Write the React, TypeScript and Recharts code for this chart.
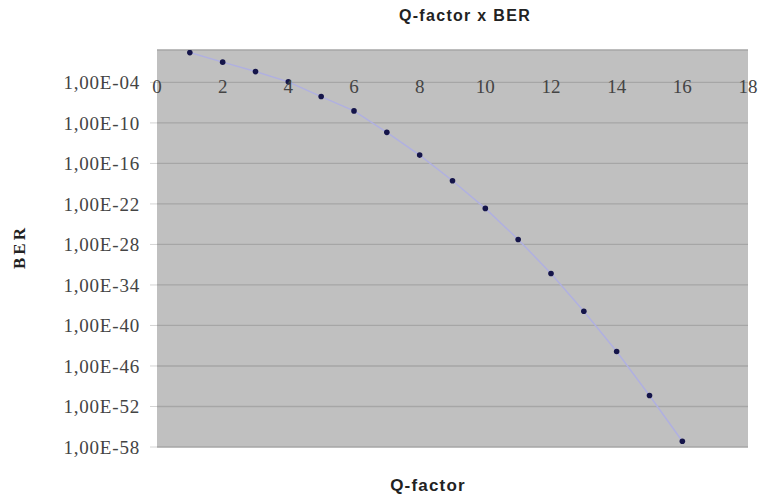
import React from "react";
import {
  ScatterChart,
  Scatter,
  XAxis,
  YAxis,
  CartesianGrid,
  ReferenceDot,
} from "recharts";

const qFactor = [1, 2, 3, 4, 5, 6, 7, 8, 9, 10, 11, 12, 13, 14, 15, 16];
const berValues = [
  2.6, 1e-1, 4e-3, 1.2e-4, 8e-7, 6e-9, 4e-12, 1.7e-15, 2.7e-19, 2.2e-23,
  5.5e-28, 4.9e-33, 1.3e-38, 1.4e-44, 4.3e-51, 7e-58,
];

const xTicks = [0, 2, 4, 6, 8, 10, 12, 14, 16, 18];
const yTickValues = [
  1e-4, 1e-10, 1e-16, 1e-22, 1e-28, 1e-34, 1e-40, 1e-46, 1e-52, 1e-58,
];
const yTickLabels = [
  "1,00E-04",
  "1,00E-10",
  "1,00E-16",
  "1,00E-22",
  "1,00E-28",
  "1,00E-34",
  "1,00E-40",
  "1,00E-46",
  "1,00E-52",
  "1,00E-58",
];
const yDomain = [1e-58, 6.3];
const xAxisCross = 1e-4;

const title = "Q-factor x BER";
const xTitle = "Q-factor";
const yTitle = "BER";

const data = qFactor.map((q, i) => ({ q, ber: berValues[i] }));

const yLabel = (v: number) => {
  const idx = yTickValues.findIndex((t) => Math.abs(Math.log10(t) - Math.log10(v)) < 0.01);
  return idx >= 0 ? yTickLabels[idx] : "";
};

const Marker = (props: any) => {
  const { cx, cy } = props;
  if (cx == null || cy == null) return null;
  return <circle cx={cx} cy={cy} r={2.8} fill="#15154a" />;
};

export default function App() {
  return (
    <div
      style={{
        position: "absolute",
        left: 0,
        top: 0,
        width: 759,
        height: 498,
        background: "#ffffff",
      }}
    >
      <ScatterChart
        width={759}
        height={498}
        margin={{ top: 50, right: 11, bottom: 51, left: 0 }}
      >
        <CartesianGrid
          vertical={false}
          fill="#c0c0c0"
          fillOpacity={1}
          stroke="#a6a6a6"
          strokeWidth={1.3}
        />
        <XAxis
          type="number"
          dataKey="q"
          domain={[0, 18]}
          ticks={xTicks}
          hide
          allowDataOverflow
        />
        <YAxis
          type="number"
          dataKey="ber"
          scale="log"
          domain={yDomain}
          ticks={yTickValues}
          allowDataOverflow
          width={157}
          axisLine={false}
          tickLine={{ stroke: "#d4d4d4" }}
          tickSize={7}
          tickMargin={10}
          tickFormatter={yLabel}
          tick={{
            fill: "#444444",
            fontFamily: "Liberation Serif",
            fontSize: 19,
            letterSpacing: 0.8,
          }}
        />
        {xTicks.map((t) => (
          <ReferenceDot
            key={t}
            x={t}
            y={xAxisCross}
            r={1}
            fill="none"
            stroke="none"
            ifOverflow="visible"
            label={{
              value: String(t),
              position: "bottom",
              offset: -4,
              fill: "#444444",
              fontFamily: "Liberation Serif",
              fontSize: 19,
            }}
          />
        ))}
        <Scatter
          data={data}
          line={{ stroke: "#b0b0e0", strokeWidth: 1.5 }}
          lineType="joint"
          shape={<Marker />}
          isAnimationActive={false}
        />
      </ScatterChart>
      <div
        style={{
          position: "absolute",
          left: 0,
          width: 930,
          top: 6,
          textAlign: "center",
          fontFamily: "Liberation Sans",
          fontWeight: "bold",
          fontSize: 16,
          letterSpacing: 1.3,
          color: "#222",
          lineHeight: "20px",
        }}
      >
        {title}
      </div>
      <div
        style={{
          position: "absolute",
          left: 0,
          width: 856,
          top: 476,
          textAlign: "center",
          fontFamily: "Liberation Sans",
          fontWeight: "bold",
          fontSize: 17,
          letterSpacing: 1.2,
          color: "#222",
          lineHeight: "20px",
        }}
      >
        {xTitle}
      </div>
      <div
        style={{
          position: "absolute",
          left: 20,
          top: 247,
          transform: "translate(-50%, -50%) rotate(-90deg)",
          fontFamily: "Liberation Serif",
          fontWeight: "bold",
          fontSize: 17,
          letterSpacing: 3,
          color: "#222",
          lineHeight: "20px",
          whiteSpace: "nowrap",
        }}
      >
        {yTitle}
      </div>
    </div>
  );
}
